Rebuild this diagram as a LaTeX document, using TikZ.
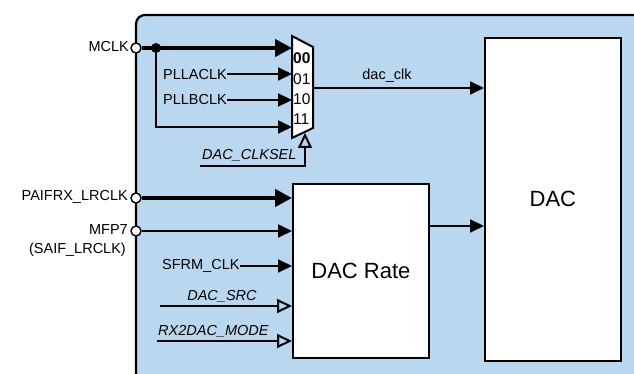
\documentclass[tikz,border=0pt]{standalone}
\usepackage{fontspec}
\setmainfont{Liberation Sans}
\usetikzlibrary{arrows.meta}
\definecolor{panelblue}{RGB}{185,215,239}
\begin{document}
\begin{tikzpicture}[x=1pt,y=-1pt,
  lbl/.style={font=\fontsize{14.5}{16}\selectfont, inner sep=0pt},
  ilbl/.style={font=\fontsize{14.5}{16}\selectfont\itshape, inner sep=0pt},
  mlbl/.style={font=\fontsize{15.5}{16}\selectfont, inner sep=0pt, anchor=west},
  big/.style={font=\fontsize{22}{24}\selectfont},
  box/.style={draw, line width=1.8pt, fill=white, anchor=north west, inner sep=0pt},
  port/.style={circle, draw, line width=1.4pt, fill=white, minimum size=10pt, inner sep=0pt},
  thinw/.style={line width=2pt},
  thickw/.style={line width=4.2pt},
  sarrow/.style={thinw, -{Triangle[length=14pt,width=13pt]}},
  barrow/.style={thickw, -{Triangle[length=17pt,width=17pt]}},
  oarrow/.style={thinw, -{Triangle[open,length=15pt,width=14pt]}}]
\useasboundingbox (0,0) rectangle (634,374);
\begin{scope}
\clip (0,0) rectangle (634,374);
\draw[line width=2.2pt, fill=panelblue, rounded corners=9pt] (136,420) -- (136,15) -- (680,15) -- (680,420) -- cycle;
\end{scope}

% blocks
\node[box, minimum width=136pt, minimum height=323pt, big] (dac) at (484,37) {DAC};
\node[box, minimum width=136pt, minimum height=174pt, big] (rate) at (292,183) {DAC Rate};

% mux
\draw[thinw, fill=white] (292,36) -- (313,47) -- (313,128) -- (292,138) -- cycle;
\coordinate (m00) at (292,48);
\coordinate (m01) at (292,74);
\coordinate (m10) at (292,100);
\coordinate (m11) at (292,127);
\coordinate (mout) at (313,88);
\coordinate (msel) at (305,133);
\node[mlbl, font=\fontsize{15.5}{16}\selectfont\bfseries] (t00) at (293,58.5) {00};
\node[mlbl] (t01) at (293,79) {01};
\node[mlbl] (t10) at (293,99) {10};
\node[mlbl] (t11) at (293,119) {11};

% MCLK
\node[port] (pm) at (136,48) {};
\node[lbl, anchor=east] (lm) at (129,47) {MCLK};
\coordinate (j) at (156,48);
\draw[barrow] (pm) -- (m00);
\fill (j) circle (5pt);
\draw[sarrow] (j) |- (m11);

\node[lbl, anchor=west] (pa) at (163,75) {PLLACLK};
\draw[sarrow] (pa.east |- m01) -- (m01);
\node[lbl, anchor=west] (pb) at (163,100) {PLLBCLK};
\draw[sarrow] (pb) -- (m10);

% clksel
\node[ilbl, anchor=south west] (cs) at (202,161) {DAC\_CLKSEL};
\coordinate (cs0) at (200,166);
\draw[oarrow] (cs0) -- (msel |- cs0) -- (msel);

% dac_clk
\draw[sarrow] (mout) -- (mout -| dac.west);
\node[lbl, anchor=south] (dc) at (387,83) {dac\_clk};

% rate inputs
\node[port] (pp) at (136,198) {};
\node[lbl, anchor=east] (lp) at (128,197) {PAIFRX\_LRCLK};
\draw[barrow] (pp) -- (pp -| rate.west);

\node[port] (pf) at (136,231) {};
\node[lbl, anchor=east] (lf) at (128,230) {MFP7};
\node[lbl, anchor=east] (lf2) at (126,250) {(SAIF\_LRCLK)};
\draw[sarrow] (pf) -- (pf -| rate.west);

\node[lbl, anchor=west] (sf) at (162,266) {SFRM\_CLK};
\draw[sarrow] (sf) -- (sf -| rate.west);

\coordinate (ds) at (160,306);
\node[ilbl, anchor=south] (dsl) at (222,302) {DAC\_SRC};
\draw[oarrow] (ds) -- (ds -| rate.west);

\coordinate (rx) at (157,341);
\node[ilbl, anchor=south west] (rxl) at (158,337) {RX2DAC\_MODE};
\draw[oarrow] (rx) -- (rx -| rate.west);

% rate output
\coordinate (ro) at (rate.east |- 0,226);
\draw[sarrow] (ro) -- (ro -| dac.west);
\end{tikzpicture}
\end{document}
